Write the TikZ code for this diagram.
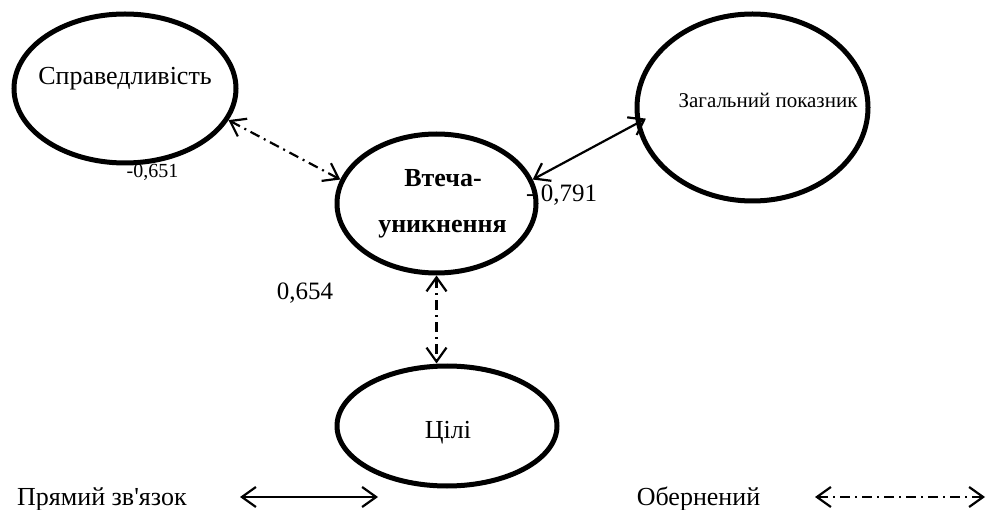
\documentclass[tikz,border=0pt]{standalone}
\usepackage{fontspec}
\setmainfont{Liberation Serif}
\usetikzlibrary{arrows.meta,shapes.geometric}

\begin{document}
\begin{tikzpicture}[x=1pt,y=-1pt,
  latent/.style={draw, ellipse, line width=5pt, inner sep=0pt},
  txt/.style={inner sep=0pt, anchor=base},
  big/.style={font=\fontsize{26}{30}\selectfont},
  strong/.style={font=\bfseries\fontsize{26}{30}\selectfont},
  barb/.tip={Straight Barb[length=14pt,width=20pt]},
  direct/.style={line width=2.2pt, barb-barb},
  inverse/.style={direct, dash pattern=on 10pt off 5pt on 2pt off 5pt}
]
\useasboundingbox (0,0) rectangle (990,510);

% latent variables
\node[latent, minimum width=222pt, minimum height=149pt] (spr) at (125,88.5) {};
\node[latent, minimum width=199pt, minimum height=139pt] (vt)  at (436.5,203.5) {};
\node[latent, minimum width=231pt, minimum height=187pt] (zal) at (752.5,107.5) {};
\node[latent, minimum width=220pt, minimum height=120pt] (cel) at (447,426) {};

% labels inside the ellipses
\node[txt, big] (t-spr) at (125,85) {Справедливість};
\node[txt, font=\fontsize{21}{25}\selectfont] (t-zal) at (768,108) {Загальний показник};
\node[txt, strong] (t-vt1) at (443,187) {Втеча-};
\node[txt, strong] (t-vt2) at (442.5,233) {уникнення};
\node[txt, big] (t-cel) at (448,438) {Цілі};

% coefficients
\node[txt, font=\fontsize{20}{24}\selectfont] (c1) at (152.5,178) {-0,651};
\node[txt, anchor=base west, font=\fontsize{25}{29}\selectfont] (c2) at (526,202) {- 0,791};
\node[txt, font=\fontsize{25}{29}\selectfont] (c3) at (305,300) {0,654};

% relations
\draw[inverse] (spr.-17) -- (vt.166);
\draw[direct, shorten >=-11pt] (vt.14) -- (zal.188);
\draw[inverse] (vt.south) -- (vt.south |- cel.north);

% legend
\node[txt, big, anchor=base west] (l1) at (17,505) {Прямий зв\textquotesingle язок};
\coordinate (d1) at (240,497);
\coordinate (d2) at (378,497);
\draw[direct] (d1) -- (d2);
\node[txt, big] (l2) at (698.5,505) {Обернений};
\coordinate (i1) at (815,497);
\coordinate (i2) at (985,497);
\draw[inverse] (i1) -- (i2);
\end{tikzpicture}
\end{document}
